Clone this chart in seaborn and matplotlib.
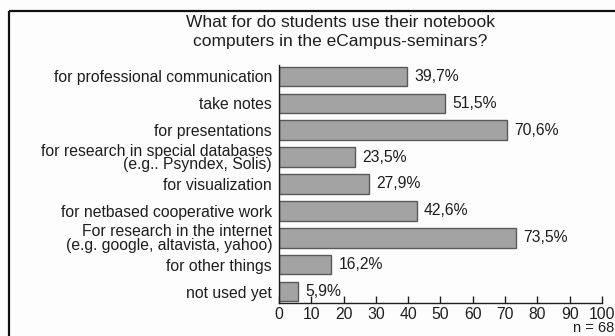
import matplotlib
matplotlib.use("Agg")
import matplotlib.pyplot as plt
import seaborn as sns
import pandas as pd
from matplotlib.lines import Line2D

categories = [
    "for professional communication",
    "take notes",
    "for presentations",
    "for research in special databases\n(e.g.. Psyndex, Solis)",
    "for visualization",
    "for netbased cooperative work",
    "For research in the internet\n(e.g. google, altavista, yahoo)",
    "for other things",
    "not used yet",
]
values = [39.7, 51.5, 70.6, 23.5, 27.9, 42.6, 73.5, 16.2, 5.9]
value_labels = ["39,7%", "51,5%", "70,6%", "23,5%", "27,9%", "42,6%", "73,5%", "16,2%", "5,9%"]
x_ticks = [0, 10, 20, 30, 40, 50, 60, 70, 80, 90, 100]
title = "What for do students use their notebook\ncomputers in the eCampus-seminars?"
note = "n = 68"

sns.set_theme(style="white")
plt.rcParams["font.family"] = ["Liberation Sans", "DejaVu Sans"]

FS = 11.3
TXT = "#1e1e1e"

df = pd.DataFrame({"category": categories, "value": values})

fig = plt.figure(figsize=(6.15, 3.36), dpi=100)
fig.patch.set_facecolor("#fdfdfd")
ax = fig.add_axes([279 / 615, 1 - 303 / 336, 323 / 615, 238 / 336])
ax.set_facecolor("#fdfdfd")

sns.barplot(data=df, x="value", y="category", orient="h", color="#a3a3a3",
            saturation=1, width=0.72, edgecolor="#5a5a5a", linewidth=1.0, ax=ax)

ax.set_xlim(0, 100)
ax.set_ylim(len(categories) - 1 + 0.42, -0.42)
ax.set_xticks(x_ticks)
ax.set_xticklabels([str(t) for t in x_ticks], fontsize=FS, color=TXT)
ax.tick_params(axis="x", direction="in", length=5, width=1, color=TXT, pad=3, bottom=True)
ax.tick_params(axis="y", length=0, pad=5, labelsize=FS, labelcolor=TXT)
for lbl in ax.get_yticklabels():
    lbl.set_linespacing(0.9)
ax.set_xlabel("")
ax.set_ylabel("")

for s in ["top", "right"]:
    ax.spines[s].set_visible(False)
for s in ["left", "bottom"]:
    ax.spines[s].set_color(TXT)
    ax.spines[s].set_linewidth(1.0)

for i, (v, t) in enumerate(zip(values, value_labels)):
    ax.annotate(t, xy=(v, i), xytext=(5, 0), textcoords="offset points",
                ha="left", va="center", fontsize=FS, color=TXT)

fig.text(340 / 615, 1 - 32 / 336, title, ha="center", va="center", fontsize=12.5,
         color=TXT, linespacing=1.38)
fig.text(614 / 615, 1 - 328 / 336, note, ha="right", va="center", fontsize=10.5, color=TXT)

# frame border (left and top visible; right/bottom cropped)
fx, fy = 8.5 / 615, 1 - 10.5 / 336
fig.add_artist(Line2D([fx, fx], [0, fy], transform=fig.transFigure, color="#111111",
                      lw=1.6, solid_capstyle="butt"))
fig.add_artist(Line2D([fx, 1], [fy, fy], transform=fig.transFigure, color="#111111",
                      lw=1.6, solid_capstyle="butt"))

fig.savefig("out.png", dpi=100, facecolor=fig.get_facecolor())
